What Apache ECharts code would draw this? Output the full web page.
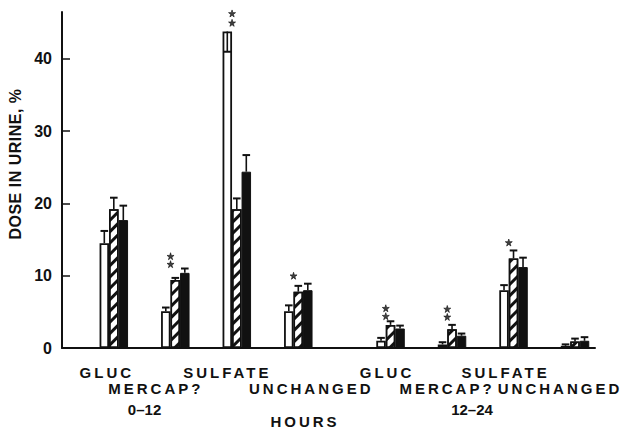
<!DOCTYPE html>
<html>
<head>
<meta charset="utf-8">
<script src="https://cdn.jsdelivr.net/npm/echarts@6/dist/echarts.min.js"></script>
<style>
  html, body { margin: 0; padding: 0; background: #fff; }
  #chart { width: 626px; height: 429px; }
</style>
</head>
<body>
<div id="chart"></div>
<script>
// Fraction of the dose recovered in urine, per metabolite and collection period.
const metabolites = ['GLUC', 'MERCAP?', 'SULFATE', 'UNCHANGED', 'GLUC', 'MERCAP?', 'SULFATE', 'UNCHANGED'];
const periods = ['0\u201312', '12\u201324'];

// mean dose in urine, % (open, hatched and solid bars)
const openBars    = [14.5, 5.1, 43.8, 5.1, 1.0, 0.5, 8.0, 0.3];
const hatchedBars = [19.2, 9.4, 19.2, 7.8, 3.2, 2.6, 12.4, 0.9];
const solidBars   = [17.7, 10.4, 24.4, 8.0, 2.7, 1.7, 11.2, 1.0];

// end of each error bar, %
const openErr    = [16.2, 5.6, 41.0, 5.9, 1.4, 0.8, 8.7, 0.5];
const hatchedErr = [20.8, 9.7, 20.7, 8.6, 3.7, 3.2, 13.5, 1.3];
const solidErr   = [19.7, 11.0, 26.7, 8.9, 3.1, 2.0, 12.5, 1.5];

// significance marks: [metabolite index, level in %]
const sigMarks = [[1, 11.6], [1, 12.7], [2, 45.0], [2, 46.3], [3, 10.0],
                  [4, 4.4], [4, 5.5], [5, 4.3], [5, 5.4], [6, 14.6]];

const yTicks = [0, 10, 20, 30, 40];

// ---- layout ----
const INK = '#111';
const FONT = '"Liberation Sans", Arial, sans-serif';
const BAR_W = 9.5;
const slot = [0, 2, 4, 6, 9, 11, 13, 15];          // x position of each metabolite group
const labelShift = [-7, -19.5, -9.5, 13, -3.5, -5, -8, -15];
const labelRowY = [372, 388];
const periodAnchor = [1, 11.65];
const periodY = 409;

const chart = echarts.init(document.getElementById('chart'), null, { renderer: 'svg' });

function errorData(ends, values, k) {
  return values.map((v, i) => [slot[i], v, ends[i], k]);
}

function renderError(params, api) {
  const x = api.value(0), v = api.value(1), e = api.value(2), k = api.value(3);
  const a = api.coord([x, v]);
  const b = api.coord([x, e]);
  const cx = a[0] + (k - 1) * BAR_W;
  const st = { stroke: INK, lineWidth: 1.6 };
  return {
    type: 'group',
    children: [
      { type: 'line', shape: { x1: cx, y1: a[1], x2: cx, y2: b[1] }, style: st },
      { type: 'line', shape: { x1: cx - 3.8, y1: b[1], x2: cx + 3.8, y2: b[1] }, style: { stroke: INK, lineWidth: 2 } }
    ]
  };
}

const starPath = 'path://M50,0 L61,35 L98,35 L68,57 L79,91 L50,70 L21,91 L32,57 L2,35 L39,35 Z';

chart.setOption({
  animation: false,
  backgroundColor: '#fff',
  grid: { left: 62, right: 31, top: 12, bottom: 81, containLabel: false, outerBoundsMode: 'none' },
  xAxis: {
    type: 'value', min: -1.685, max: 15.65,
    axisLine: { show: true, onZero: false, lineStyle: { color: INK, width: 2 } },
    axisTick: { show: false }, axisLabel: { show: false }, splitLine: { show: false },
    name: 'HOURS', nameLocation: 'middle', nameGap: 66,
    nameTextStyle: { color: INK, fontFamily: FONT, fontWeight: 'bold', fontSize: 15, padding: [0, 47, 0, 0] }
  },
  yAxis: {
    type: 'value', min: 0, max: 46.5, interval: 10,
    axisLine: { show: true, onZero: false, lineStyle: { color: INK, width: 2 } },
    axisTick: { show: true, inside: true, length: 8, customValues: yTicks, lineStyle: { color: INK, width: 1.5 } },
    axisLabel: { customValues: yTicks, margin: 10, color: INK, fontFamily: FONT, fontWeight: 'bold', fontSize: 16 },
    splitLine: { show: false },
    name: 'DOSE IN URINE, %', nameLocation: 'middle', nameGap: 33,
    nameTextStyle: { color: INK, fontFamily: FONT, fontWeight: 'bold', fontSize: 16, padding: [0, 0, 0, 32] }
  },
  series: [
    {
      type: 'bar', barWidth: BAR_W, barGap: '0%',
      data: openBars.map((v, i) => [slot[i], v]),
      itemStyle: { color: '#fff', borderColor: INK, borderWidth: 1.8 }
    },
    {
      type: 'bar', barWidth: BAR_W, barGap: '0%',
      data: hatchedBars.map((v, i) => [slot[i], v]),
      itemStyle: {
        color: '#fff', borderColor: INK, borderWidth: 1.5,
        decal: { symbol: 'rect', symbolSize: 1, dashArrayX: [1, 0], dashArrayY: [3, 4.5],
                 rotation: -Math.PI / 4, color: INK }
      }
    },
    {
      type: 'bar', barWidth: BAR_W, barGap: '0%',
      data: solidBars.map((v, i) => [slot[i], v]),
      itemStyle: { color: INK, borderColor: INK, borderWidth: 1 }
    },
    { type: 'custom', z: 3, renderItem: renderError, data: errorData(openErr, openBars, 0) },
    { type: 'custom', z: 3, renderItem: renderError, data: errorData(hatchedErr, hatchedBars, 1) },
    { type: 'custom', z: 3, renderItem: renderError, data: errorData(solidErr, solidBars, 2) },
    {
      type: 'scatter', z: 4, clip: false,
      symbol: starPath, symbolSize: 7, symbolOffset: [-BAR_W / 2, 0],
      itemStyle: { color: INK, borderColor: INK, borderWidth: 0.8 },
      data: sigMarks.map(([g, y]) => [slot[g], y])
    }
  ]
});

// category and period captions under the axis
const textStyle = { fill: INK, font: 'bold 15px ' + FONT, textAlign: 'center', textVerticalAlign: 'middle' };
const captions = metabolites.map((name, i) => ({
  type: 'text',
  x: chart.convertToPixel({ xAxisIndex: 0 }, slot[i]) + labelShift[i],
  y: labelRowY[i % 2],
  style: Object.assign({ text: name }, textStyle)
}));
periods.forEach((p, i) => captions.push({
  type: 'text',
  x: chart.convertToPixel({ xAxisIndex: 0 }, periodAnchor[i]),
  y: periodY,
  style: Object.assign({ text: p }, textStyle)
}));
chart.setOption({ graphic: captions });

// letter spacing for the capital-letter captions
function spaceLetters() {
  document.querySelectorAll('#chart text').forEach(t => {
    const s = t.textContent;
    if (/^[A-Z?]+$/.test(s)) t.style.letterSpacing = '3px';
    else if (/^[A-Z ,%]+$/.test(s)) t.style.letterSpacing = '0.5px';
  });
}
chart.on('finished', spaceLetters);
spaceLetters();
requestAnimationFrame(spaceLetters);
</script>
</body>
</html>
